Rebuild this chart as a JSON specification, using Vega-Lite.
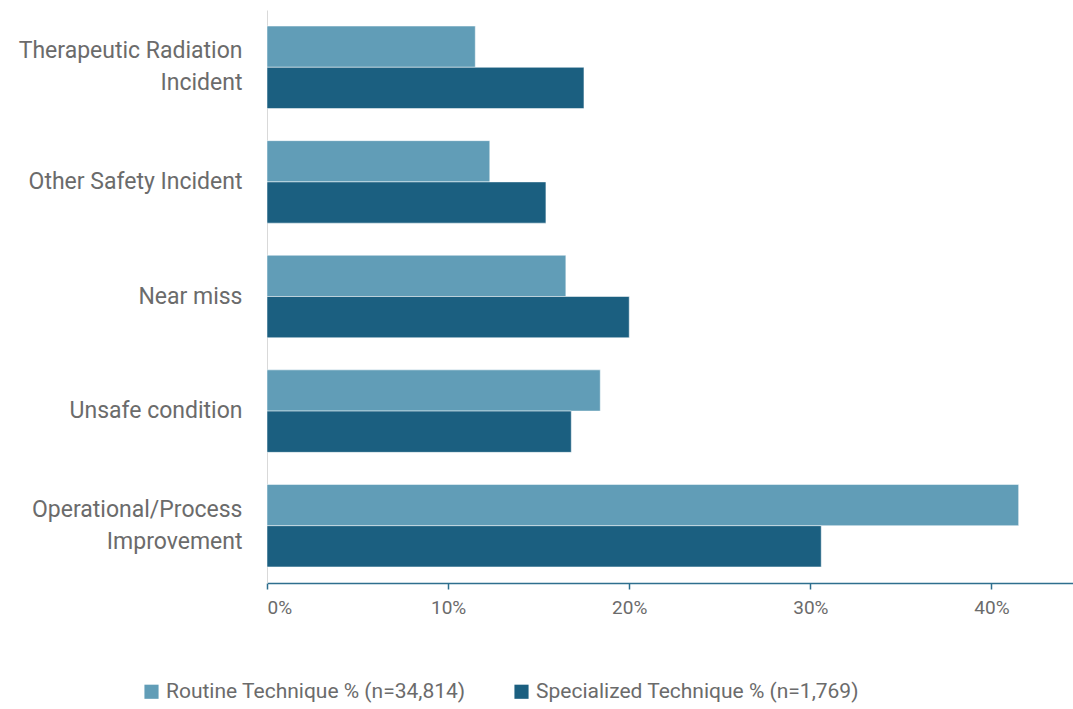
{
  "$schema": "https://vega.github.io/schema/vega-lite/v6.json",
  "width": 806,
  "height": 573,
  "autosize": {"type": "none"},
  "padding": {"left": 267, "top": 10, "right": 0, "bottom": 126},
  "background": "white",
  "data": {
    "values": [
      {"category": "Therapeutic Radiation Incident", "series": "Routine Technique % (n=34,814)", "order": 1, "value": 0.115},
      {"category": "Therapeutic Radiation Incident", "series": "Specialized Technique % (n=1,769)", "order": 2, "value": 0.175},
      {"category": "Other Safety Incident", "series": "Routine Technique % (n=34,814)", "order": 1, "value": 0.123},
      {"category": "Other Safety Incident", "series": "Specialized Technique % (n=1,769)", "order": 2, "value": 0.154},
      {"category": "Near miss", "series": "Routine Technique % (n=34,814)", "order": 1, "value": 0.165},
      {"category": "Near miss", "series": "Specialized Technique % (n=1,769)", "order": 2, "value": 0.200},
      {"category": "Unsafe condition", "series": "Routine Technique % (n=34,814)", "order": 1, "value": 0.184},
      {"category": "Unsafe condition", "series": "Specialized Technique % (n=1,769)", "order": 2, "value": 0.168},
      {"category": "Operational/Process Improvement", "series": "Routine Technique % (n=34,814)", "order": 1, "value": 0.415},
      {"category": "Operational/Process Improvement", "series": "Specialized Technique % (n=1,769)", "order": 2, "value": 0.306}
    ]
  },
  "mark": {"type": "bar", "stroke": "#ffffff", "strokeWidth": 1, "strokeOpacity": 0.5},
  "encoding": {
    "y": {
      "field": "category",
      "type": "nominal",
      "sort": ["Therapeutic Radiation Incident", "Other Safety Incident", "Near miss", "Unsafe condition", "Operational/Process Improvement"],
      "scale": {"paddingInner": 0.28, "paddingOuter": 0.14},
      "axis": {
        "title": null,
        "domainColor": "#d9d9d9",
        "domainWidth": 1,
        "ticks": false,
        "labelPadding": 25,
        "labelFont": "Roboto",
        "labelFontSize": 23,
        "labelColor": "#6b6b6b",
        "labelLimit": 300,
        "labelLineHeight": 32,
        "labelOffset": {"condition": {"test": "datum.value == 'Therapeutic Radiation Incident' || datum.value == 'Operational/Process Improvement'", "value": -16}, "value": 0},
        "labelExpr": "datum.label == 'Therapeutic Radiation Incident' ? ['Therapeutic Radiation', 'Incident'] : datum.label == 'Operational/Process Improvement' ? ['Operational/Process', 'Improvement'] : datum.label"
      }
    },
    "yOffset": {"field": "order", "type": "ordinal", "scale": {"paddingInner": 0, "paddingOuter": 0}},
    "x": {
      "field": "value",
      "type": "quantitative",
      "scale": {"domain": [0, 0.445], "nice": false},
      "axis": {
        "title": null,
        "format": ".0%",
        "values": [0, 0.1, 0.2, 0.3, 0.4],
        "grid": false,
        "domainColor": "#2e6f8e",
        "domainWidth": 1.5,
        "tickColor": "#2e6f8e",
        "tickWidth": 1.5,
        "tickSize": 6,
        "labelPadding": 9,
        "labelFont": "Roboto",
        "labelFontSize": 19,
        "labelColor": "#6b6b6b"
      }
    },
    "color": {
      "field": "series",
      "type": "nominal",
      "scale": {"domain": ["Routine Technique % (n=34,814)", "Specialized Technique % (n=1,769)"], "range": ["#619db7", "#1b5f80"]},
      "legend": {
        "title": null,
        "orient": "none",
        "direction": "horizontal",
        "legendX": -126,
        "legendY": 671,
        "symbolType": "square",
        "symbolSize": 200,
        "symbolStrokeWidth": 0,
        "labelFont": "Roboto",
        "labelFontSize": 21,
        "labelColor": "#6b6b6b",
        "labelLimit": 400,
        "columnPadding": 45,
        "labelOffset": 4
      }
    }
  },
  "config": {"view": {"stroke": null}}
}
